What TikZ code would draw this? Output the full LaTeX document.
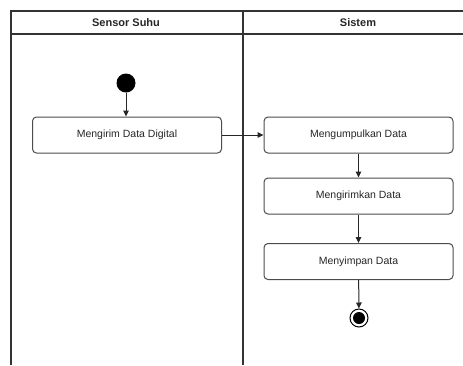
\documentclass[tikz,border=0pt]{standalone}
\usepackage{fontspec}
\setmainfont{Liberation Sans}
\usetikzlibrary{arrows.meta}
\begin{document}
\begin{tikzpicture}[x=1pt,y=-1pt,
  lane/.style={draw=black!80,line width=1.1pt},
  act/.style={draw=black!70,line width=1pt,rounded corners=4pt,minimum width=189pt,minimum height=36pt,inner sep=0pt,font=\fontsize{10.5}{12}\selectfont,text=black!85},
  hdr/.style={font=\bfseries\fontsize{11}{13}\selectfont,text=black!85},
  flow/.style={draw=black!85,line width=1pt,-{Triangle[length=6pt,width=5.5pt]}}]
\useasboundingbox (0,0) rectangle (463,365);
% swimlanes
\draw[lane] (11,365) -- (11,11) -- (463,11);
\draw[lane] (11,34) -- (463,34);
\draw[lane] (243,11) -- (243,365);
\node[hdr] (h1) at (126,22.5) {Sensor Suhu};
\node[hdr] (h2) at (358,22.5) {Sistem};
% nodes
\node[circle,fill=black,minimum size=19pt,inner sep=0pt] (start) at (126,83) {};
\node[act] (a1) at (127,135) {Mengirim Data Digital};
\node[act] (a2) at (358.5,135) {Mengumpulkan Data};
\node[act] (a3) at (358.5,196) {Mengirimkan Data};
\node[act] (a4) at (358.5,261.5) {Menyimpan Data};
\node[circle,draw=black,line width=1pt,minimum size=18pt,inner sep=0pt] (end) at (359,318) {};
\node[circle,fill=black,minimum size=12pt,inner sep=0pt] (endin) at (end.center) {};
% connectors
\draw[flow] (start) -- (a1.north -| start);
\draw[flow] (a1) -- (a2);
\draw[flow] (a2) -- (a3);
\draw[flow] (a3) -- (a4);
\draw[flow] (a4) -- (end);
\end{tikzpicture}
\end{document}
